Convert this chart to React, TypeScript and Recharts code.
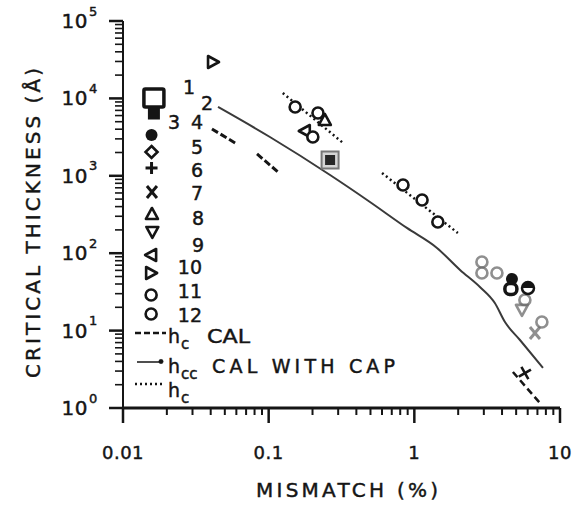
import React from 'react';
import { ComposedChart, Line, Scatter, XAxis, YAxis } from 'recharts';

const FONT = '"DejaVu Sans", Arial, sans-serif';
const INK = '#151515';
const TXT = { stroke: '#151515', strokeWidth: 0.45 };

const xTicks = [
  0.01, 0.02, 0.03, 0.04, 0.05, 0.06, 0.07, 0.08, 0.09,
  0.1, 0.2, 0.3, 0.4, 0.5, 0.6, 0.7, 0.8, 0.9,
  1, 2, 3, 4, 5, 6, 7, 8, 9, 10,
];
const xLabels: Record<number, string> = { 0.01: '0.01', 0.1: '0.1', 1: '1', 10: '10' };

const yTicks = [
  1, 2, 3, 4, 5, 6, 7, 8, 9,
  10, 20, 30, 40, 50, 60, 70, 80, 90,
  100, 200, 300, 400, 500, 600, 700, 800, 900,
  1000, 2000, 3000, 4000, 5000, 6000, 7000, 8000, 9000,
  10000, 20000, 30000, 40000, 50000, 60000, 70000, 80000, 90000,
  100000,
];
const yDecades: Record<number, string> = { 1: '0', 10: '1', 100: '2', 1000: '3', 10000: '4', 100000: '5' };

// h_cc calculated with cap (solid)
const hccCap = [
  { x: 0.0449, y: 7745 },
  { x: 0.102, y: 3170 },
  { x: 0.264, y: 1024 },
  { x: 0.496, y: 459 },
  { x: 0.889, y: 212 },
  { x: 1.43, y: 117 },
  { x: 2.06, y: 60.7 },
  { x: 2.82, y: 36.6 },
  { x: 3.57, y: 22.7 },
  { x: 4.19, y: 12.9 },
  { x: 5.31, y: 7.56 },
  { x: 7.64, y: 3.29 },
];

// h_c calculated (dashed pieces)
const hcCalA = [{ x: 0.0408, y: 4025 }, { x: 0.0605, y: 2576 }];
const hcCalB = [{ x: 0.0832, y: 1914 }, { x: 0.116, y: 1120 }];
const hcCalC = [{ x: 4.75, y: 2.92 }, { x: 7.28, y: 1.16 }];

// h_c measured (dotted pieces)
const hcA = [{ x: 0.125, y: 11740 }, { x: 0.324, y: 2655 }];
const hcB = [{ x: 0.6, y: 1087 }, { x: 1.99, y: 182 }];

// measured points, black
const blackPoints = [
  { x: 0.0415, y: 29520, kind: 'triR' },
  { x: 0.152, y: 7745, kind: 'circle' },
  { x: 0.218, y: 6475, kind: 'circle' },
  { x: 0.243, y: 5260, kind: 'triU' },
  { x: 0.177, y: 3790, kind: 'triL' },
  { x: 0.201, y: 3170, kind: 'circle' },
  { x: 0.264, y: 1600, kind: 'framed' },
  { x: 0.836, y: 760, kind: 'circle' },
  { x: 1.13, y: 487, kind: 'circle' },
  { x: 1.45, y: 253, kind: 'circle' },
  { x: 4.68, y: 46.4, kind: 'dotFill' },
  { x: 4.6, y: 34.5, kind: 'boldD' },
  { x: 6.03, y: 35.5, kind: 'halfFill' },
  { x: 5.74, y: 2.83, kind: 'plusTilt' },
];

// measured points, faint grey
const greyPoints = [
  { x: 2.91, y: 76.9, kind: 'circle' },
  { x: 2.91, y: 55.5, kind: 'circle' },
  { x: 3.69, y: 55.5, kind: 'circle' },
  { x: 5.74, y: 24.9, kind: 'circle' },
  { x: 5.48, y: 18.5, kind: 'triD' },
  { x: 7.51, y: 12.9, kind: 'circle' },
  { x: 6.73, y: 9.31, kind: 'cross' },
];

// legend symbols (column inside plot)
const legendMarks = [
  { x: 0.0163, y: 10120, kind: 'sqOpen' },
  { x: 0.0163, y: 6475, kind: 'sqFill' },
  { x: 0.0157, y: 3366, kind: 'dotFill' },
  { x: 0.0157, y: 2030, kind: 'diamond' },
  { x: 0.0157, y: 1262, kind: 'plus' },
  { x: 0.0158, y: 618, kind: 'cross' },
  { x: 0.0158, y: 321, kind: 'triU' },
  { x: 0.0159, y: 188, kind: 'triD' },
  { x: 0.0156, y: 94.8, kind: 'triL' },
  { x: 0.0156, y: 55.5, kind: 'triR' },
  { x: 0.0156, y: 28.8, kind: 'circle' },
  { x: 0.0156, y: 16.4, kind: 'circle' },
];

const legendNumbers = [
  { x: 0.0284, y: 14030, label: '1' },
  { x: 0.0377, y: 8725, label: '2' },
  { x: 0.0224, y: 4955, label: '3' },
  { x: 0.0322, y: 4955, label: '4' },
  { x: 0.0322, y: 2355, label: '5' },
  { x: 0.0322, y: 1189, label: '6' },
  { x: 0.0322, y: 600, label: '7' },
  { x: 0.0327, y: 285, label: '8' },
  { x: 0.0327, y: 128, label: '9' },
  { x: 0.0288, y: 66.3, label: '10' },
  { x: 0.0288, y: 32.5, label: '11' },
  { x: 0.0288, y: 15.9, label: '12' },
];

function drawMark(kind: string, cx: number, cy: number, c: string) {
  const sw = 2.6;
  switch (kind) {
    case 'sqOpen':
      return <rect x={cx - 10} y={cy - 9} width={20} height={18} rx={1.5} fill="#fff" stroke={c} strokeWidth={3.5} />;
    case 'sqFill':
      return <rect x={cx - 6} y={cy - 6.5} width={12} height={13} fill={c} />;
    case 'dotFill':
      return <circle cx={cx} cy={cy} r={6} fill={c} />;
    case 'diamond':
      return <polygon points={`${cx},${cy - 6} ${cx + 6},${cy} ${cx},${cy + 6} ${cx - 6},${cy}`} fill="#fff" stroke={c} strokeWidth={sw} />;
    case 'plus':
      return (
        <g stroke={c} strokeWidth={3}>
          <line x1={cx - 6} y1={cy} x2={cx + 6} y2={cy} />
          <line x1={cx} y1={cy - 6} x2={cx} y2={cy + 6} />
        </g>
      );
    case 'plusTilt':
      return (
        <g stroke={c} strokeWidth={2.6} transform={`rotate(-30 ${cx} ${cy})`}>
          <line x1={cx - 7} y1={cy} x2={cx + 7} y2={cy} />
          <line x1={cx} y1={cy - 7} x2={cx} y2={cy + 7} />
        </g>
      );
    case 'cross':
      return (
        <g stroke={c} strokeWidth={3}>
          <line x1={cx - 5} y1={cy - 6} x2={cx + 5} y2={cy + 6} />
          <line x1={cx + 5} y1={cy - 6} x2={cx - 5} y2={cy + 6} />
        </g>
      );
    case 'triU':
      return <polygon points={`${cx},${cy - 6} ${cx + 6},${cy + 5} ${cx - 6},${cy + 5}`} fill="#fff" stroke={c} strokeWidth={sw} strokeLinejoin="round" />;
    case 'triD':
      return <polygon points={`${cx - 6},${cy - 5} ${cx + 6},${cy - 5} ${cx},${cy + 6}`} fill="#fff" stroke={c} strokeWidth={sw} strokeLinejoin="round" />;
    case 'triL':
      return <polygon points={`${cx - 6},${cy} ${cx + 5},${cy - 6} ${cx + 5},${cy + 6}`} fill="#fff" stroke={c} strokeWidth={sw} strokeLinejoin="round" />;
    case 'triR':
      return <polygon points={`${cx + 6},${cy} ${cx - 5},${cy - 6} ${cx - 5},${cy + 6}`} fill="#fff" stroke={c} strokeWidth={sw} strokeLinejoin="round" />;
    case 'circle':
      return <circle cx={cx} cy={cy} r={5.5} fill="#fff" stroke={c} strokeWidth={sw} />;
    case 'framed':
      return (
        <g>
          <rect x={cx - 8.5} y={cy - 8.5} width={17} height={17} fill="#d4d4d4" stroke="#777" strokeWidth={2} />
          <rect x={cx - 5} y={cy - 5} width={10} height={10} fill="#262626" />
        </g>
      );
    case 'boldD':
      return <rect x={cx - 6} y={cy - 5.5} width={12} height={11} rx={5} fill="#fff" stroke={c} strokeWidth={3.5} />;
    case 'halfFill':
      return (
        <g>
          <circle cx={cx} cy={cy} r={6} fill="#fff" stroke={c} strokeWidth={2.5} />
          <path d={`M ${cx - 6} ${cy} A 6 6 0 0 1 ${cx + 6} ${cy} Z`} fill={c} />
        </g>
      );
    default:
      return <circle cx={cx} cy={cy} r={4} fill={c} />;
  }
}

const BlackMark = (props: any) => {
  const { cx, cy, payload } = props;
  if (cx == null || cy == null) return <g />;
  return drawMark(payload.kind, cx, cy, INK);
};

const GreyMark = (props: any) => {
  const { cx, cy, payload } = props;
  if (cx == null || cy == null) return <g />;
  return <g opacity={0.75}>{drawMark(payload.kind, cx, cy, '#6a6a6a')}</g>;
};

const NumberMark = (props: any) => {
  const { cx, cy, payload } = props;
  if (cx == null || cy == null) return <g />;
  return (
    <text x={cx} y={cy} textAnchor="middle" dominantBaseline="central" fontFamily={FONT} fontSize={19} fill={INK} {...TXT}>
      {payload.label}
    </text>
  );
};

const XTick = (props: any) => {
  const { x, y, payload } = props;
  const v = payload.value;
  const label = xLabels[v];
  return (
    <g>
      <line x1={x} y1={y} x2={x} y2={y + (label ? 15 : 7)} stroke={INK} strokeWidth={label ? 2.5 : 2} />
      {label && (
        <text x={x} y={y + 44} textAnchor="middle" dominantBaseline="central" fontFamily={FONT} fontSize={18} letterSpacing={0.5} fill={INK} {...TXT}>
          {label}
        </text>
      )}
    </g>
  );
};

const YTick = (props: any) => {
  const { x, y, payload } = props;
  const v = payload.value;
  const exp = yDecades[v];
  return (
    <g>
      <line x1={x - (exp ? 14 : 8)} y1={y} x2={x} y2={y} stroke={INK} strokeWidth={exp ? 2.5 : 1.6} />
      {exp && (
        <g fontFamily={FONT} fill={INK} {...TXT}>
          <text x={88} y={y} textAnchor="end" dominantBaseline="central" fontSize={20} letterSpacing={0.5}>10</text>
          <text x={89} y={y - 10} textAnchor="start" dominantBaseline="central" fontSize={13}>{exp}</text>
        </g>
      )}
    </g>
  );
};

export default function App() {
  return (
    <div style={{ position: 'absolute', left: 0, top: 0, width: 576, height: 507, background: '#fff' }}>
      <ComposedChart width={576} height={507} margin={{ top: 21, right: 16, bottom: 0, left: 0 }}>
        <XAxis
          dataKey="x"
          type="number"
          scale="log"
          domain={[0.01, 10]}
          allowDataOverflow
          ticks={xTicks}
          interval={0}
          tick={<XTick />}
          tickLine={false}
          tickSize={0}
          tickMargin={0}
          height={99}
          axisLine={{ stroke: INK, strokeWidth: 3 }}
        />
        <YAxis
          dataKey="y"
          type="number"
          scale="log"
          domain={[1, 100000]}
          allowDataOverflow
          ticks={yTicks}
          interval={0}
          tick={<YTick />}
          tickLine={false}
          tickSize={0}
          tickMargin={0}
          width={123}
          axisLine={{ stroke: INK, strokeWidth: 2 }}
        />
        <Line data={hccCap} dataKey="y" type="monotone" stroke="#3a3a3a" strokeWidth={2} dot={false} isAnimationActive={false} />
        <Line data={hcCalA} dataKey="y" type="linear" stroke={INK} strokeWidth={3} strokeDasharray="7 3" dot={false} isAnimationActive={false} />
        <Line data={hcCalB} dataKey="y" type="linear" stroke={INK} strokeWidth={3} strokeDasharray="7 3" dot={false} isAnimationActive={false} />
        <Line data={hcCalC} dataKey="y" type="linear" stroke={INK} strokeWidth={2.5} strokeDasharray="7 4" dot={false} isAnimationActive={false} />
        <Line data={hcA} dataKey="y" type="linear" stroke={INK} strokeWidth={2.5} strokeDasharray="2 3" dot={false} isAnimationActive={false} />
        <Line data={hcB} dataKey="y" type="linear" stroke={INK} strokeWidth={2.5} strokeDasharray="2 3" dot={false} isAnimationActive={false} />
        <Scatter data={greyPoints} shape={<GreyMark />} isAnimationActive={false} />
        <Scatter data={blackPoints} shape={<BlackMark />} isAnimationActive={false} />
        <Scatter data={legendMarks} shape={<BlackMark />} isAnimationActive={false} />
        <Scatter data={legendNumbers} shape={<NumberMark />} isAnimationActive={false} />
      </ComposedChart>
      <svg width={576} height={507} style={{ position: 'absolute', left: 0, top: 0, pointerEvents: 'none' }}>
        <g fontFamily={FONT} fill={INK} {...TXT}>
          {/* line-style legend */}
          <line x1={135} y1={333} x2={166} y2={333} stroke={INK} strokeWidth={2.5} strokeDasharray="6 3" />
          <text x={168} y={343} fontSize={19}>h</text>
          <text x={181} y={349} fontSize={15}>c</text>
          <text x={207} y={343} fontSize={19} textLength={43} lengthAdjust="spacingAndGlyphs">CAL</text>

          <line x1={137} y1={362} x2={160} y2={362} stroke={INK} strokeWidth={1.5} />
          <circle cx={161} cy={361.5} r={2.2} fill={INK} />
          <text x={168} y={373} fontSize={19}>h</text>
          <text x={181} y={379} fontSize={15}>cc</text>
          <text x={212} y={373} fontSize={19} textLength={183} lengthAdjust="spacing">CAL WITH CAP</text>

          <line x1={135} y1={384} x2={164} y2={384} stroke={INK} strokeWidth={2.5} strokeDasharray="2 3" />
          <text x={168} y={397} fontSize={19}>h</text>
          <text x={181} y={403} fontSize={15}>c</text>

          {/* axis titles */}
          <text x={347} y={497} textAnchor="middle" fontSize={20} textLength={182} lengthAdjust="spacing">MISMATCH (%)</text>
          <text
            x={0}
            y={0}
            textAnchor="middle"
            fontSize={20}
            textLength={310}
            lengthAdjust="spacing"
            transform="translate(40 223) rotate(-90)"
          >
            CRITICAL THICKNESS (Å)
          </text>
        </g>
      </svg>
    </div>
  );
}
